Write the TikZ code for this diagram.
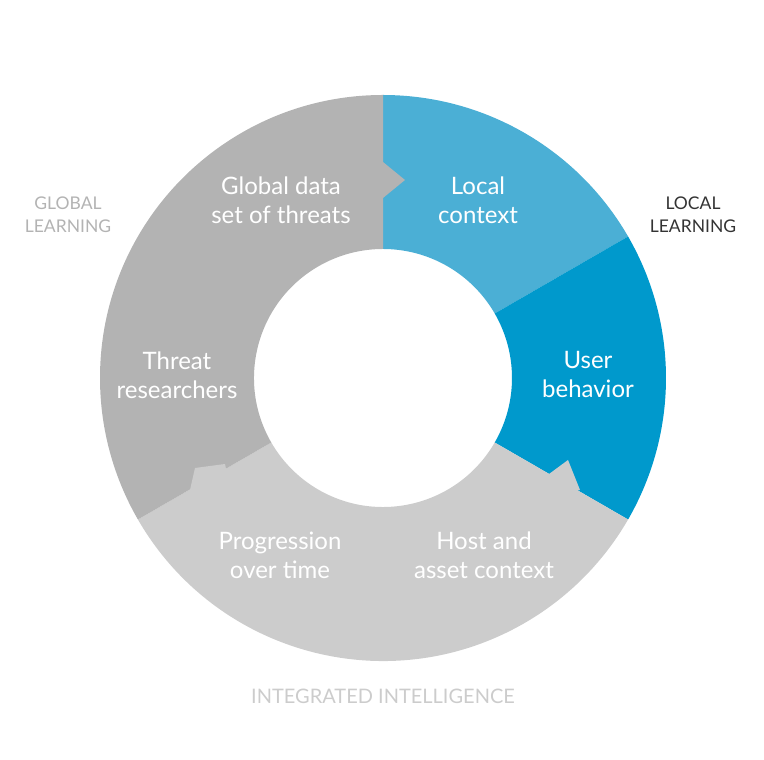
\documentclass[tikz,border=0pt]{standalone}
\usepackage{fontspec}
\setmainfont{Lato}
\usetikzlibrary{calc}
\definecolor{lb}{HTML}{4BAFD5}
\definecolor{db}{HTML}{0099CC}
\definecolor{gr}{HTML}{B3B3B3}
\definecolor{lg}{HTML}{CCCCCC}
\tikzset{seglabel/.style={text=white,align=center,font=\fontsize{24}{29}\selectfont},
outlabel/.style={align=center,font=\fontsize{17.5}{23}\selectfont}}
\newcommand\sect[3]{\fill[#3] ($(C)+(#1:283)$) arc[start angle=#1,end angle=#2,radius=283] -- ($(C)+(#2:129)$) arc[start angle=#2,end angle=#1,radius=129] -- cycle;}
\begin{document}
\begin{tikzpicture}[x=1pt,y=1pt]
\useasboundingbox (0,0) rectangle (764,760);
\coordinate (C) at (383,382);
\sect{30}{90}{lb}
\sect{-30}{30}{db}
\sect{-150}{-30}{lg}
\sect{90}{210}{gr}
% notches
\fill[gr] (383,598) -- (405,580) -- (383,562) -- cycle;
\fill[lg] (545,283) -- (553,265) -- (580,270) -- (568,300) -- cycle;
\fill[lg] (190,270) -- (195,292) -- (225,296) -- (232,262) -- cycle;
\node[seglabel] (g) at (281,560) {Global data\\set of threats};
\node[seglabel] (l) at (478,560) {Local\\context};
\node[seglabel] (t) at (177,385) {Threat\\researchers};
\node[seglabel] (u) at (588,385) {User\\behavior};
\node[seglabel] (p) at (280,205) {Progression\\over time};
\node[seglabel] (h) at (484,205) {Host and\\asset context};
\node[outlabel,text=gr] (gl) at (68,545) {GLOBAL\\LEARNING};
\node[outlabel,text=black!80] (ll) at (693,545) {LOCAL\\LEARNING};
\node[outlabel,text=lg,font=\fontsize{20}{24}\selectfont] (ii) at (383,64) {INTEGRATED INTELLIGENCE};
\end{tikzpicture}
\end{document}
